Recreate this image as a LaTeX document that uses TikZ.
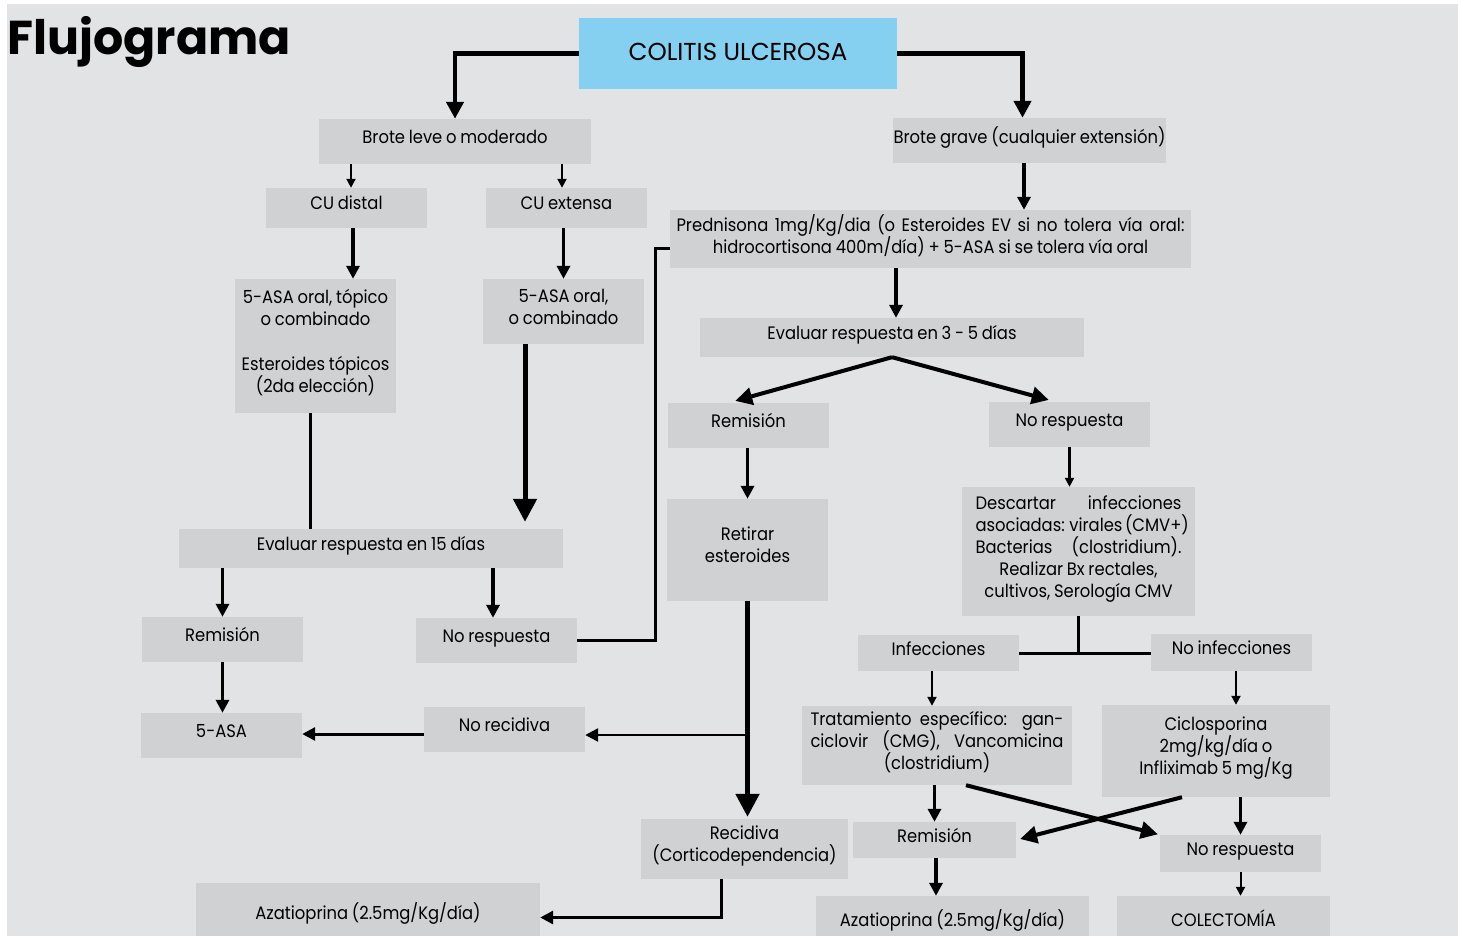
\documentclass[tikz,border=0pt]{standalone}
\usepackage{fontspec}
\setmainfont{Poppins}[FakeStretch=0.91,WordSpace=0.85]
\newfontfamily\headfont{Poppins}
\usepackage{xcolor}
\usepackage{tikz}
\usetikzlibrary{arrows.meta}

\definecolor{pagegray}{HTML}{E2E3E5}
\definecolor{boxgray}{HTML}{D0D1D3}
\definecolor{skyblue}{HTML}{85D0F0}

\begin{document}
\begin{tikzpicture}[x=1pt,y=-1pt,
 box/.style={fill=boxgray,inner sep=0pt,align=center,font=\fontsize{18}{22}\selectfont,
  execute at begin node={\rule{0pt}{14pt}},execute at end node={\rule[-10pt]{0pt}{10pt}}},
 huge/.style={-{Triangle[width=23pt,length=23pt]},line width=5pt},
 big/.style={-{Triangle[width=17pt,length=17pt]},line width=4.5pt},
 med/.style={-{Triangle[width=13pt,length=13pt]},line width=3.5pt},
 slim/.style={-{Triangle[width=9pt,length=9pt]},line width=2pt},
 link/.style={line width=3pt}]
\useasboundingbox (0,0) rectangle (1458,936);
\fill[white] (0,0) rectangle (1458,936);
\fill[pagegray] (7,4) rectangle (1458,936);
\node[anchor=base west,inner sep=0pt,font=\headfont\bfseries\fontsize{47.5}{50}\selectfont] (title) at (7,55) {Flujograma};
\node[box,fill=skyblue,minimum width=318,minimum height=71,font=\headfont\fontsize{24.5}{28}\selectfont,
 execute at begin node={},execute at end node={},text height=17pt,text depth=3pt] (colitis) at (738,53.5) {COLITIS ULCEROSA};
\node[box,minimum width=272,minimum height=45] (leve) at (455,141.5) {Brote leve o moderado};
\node[box,minimum width=273,minimum height=45] (grave) at (1029.5,140.5) {Brote grave (cualquier extensión)};
\node[box,minimum width=161,minimum height=40] (distal) at (346.5,208) {CU distal};
\node[box,minimum width=161,minimum height=40] (extensa) at (566.5,208) {CU extensa};
\node[box,minimum width=521,minimum height=58] (predni) at (930.5,239) {\hbox to 508pt{Prednisona 1mg/Kg/dia (o Esteroides EV si no tolera vía oral:}\\hidrocortisona 400m/día) + 5-ASA si se tolera vía oral};
\node[box,minimum width=161,minimum height=134] (asatop) at (315.5,346) {5-ASA oral, tópico\\o combinado\\[23pt]Esteroides tópicos\\(2da elección)};
\node[box,minimum width=161,minimum height=65] (asacomb) at (563.5,311.5) {5-ASA oral,\\o combinado};
\node[box,minimum width=384,minimum height=39] (evaltres) at (892,337.5) {Evaluar respuesta en 3 - 5 días};
\node[box,minimum width=161,minimum height=45] (remmid) at (748.5,425.5) {Remisión};
\node[box,minimum width=161,minimum height=45] (norespmid) at (1069.5,424.5) {No respuesta};
\node[box,minimum width=161,minimum height=102] (retirar) at (747.5,550) {Retirar\\esteroides};
\node[box,minimum width=233,minimum height=129] (descartar) at (1078.5,551.5) {\hbox to 206pt{Descartar\hfill infecciones}\\\hbox to 206pt{asociadas: virales (CMV+)}\\\hbox to 206pt{Bacterias\hfill (clostridium).}\\Realizar Bx rectales,\\cultivos, Serología CMV};
\node[box,minimum width=384,minimum height=39] (evalquince) at (371,548.5) {Evaluar respuesta en 15 días};
\node[box,minimum width=161,minimum height=45] (reml) at (222.5,639.5) {Remisión};
\node[box,minimum width=161,minimum height=45] (norespl) at (496.5,640.5) {No respuesta};
\node[box,minimum width=161,minimum height=36] (infec) at (938.5,653) {Infecciones};
\node[box,minimum width=161,minimum height=37] (noinfec) at (1231.5,652.5) {No infecciones};
\node[box,minimum width=161,minimum height=45] (asa) at (221.5,735.5) {5-ASA};
\node[box,minimum width=161,minimum height=45] (norecid) at (504.5,729.5) {No recidiva};
\node[box,minimum width=270,minimum height=79] (tratam) at (937,745.5) {\hbox to 253pt{Tratamiento específico: gan-}\\\hbox to 253pt{ciclovir (CMG), Vancomicina}\\(clostridium)};
\node[box,minimum width=228,minimum height=92] (ciclo) at (1216,751) {Ciclosporina\\2mg/kg/día o\\Infliximab 5 mg/Kg};
\node[box,minimum width=207,minimum height=60] (recid) at (744.5,849) {Recidiva\\(Corticodependencia)};
\node[box,minimum width=163,minimum height=36] (remb) at (934.5,840) {Remisión};
\node[box,minimum width=161,minimum height=37] (norespb) at (1240.5,853.5) {No respuesta};
\node[box,minimum width=344,minimum height=66] (azal) at (368,916) {Azatioprina (2.5mg/Kg/día)};
\node[box,minimum width=273,minimum height=55] (azar) at (952.5,923.5) {Azatioprina (2.5mg/Kg/día)};
\node[box,minimum width=213,minimum height=55] (colect) at (1223.5,923.5) {COLECTOMÍA};
\coordinate (bend) at (655,248);
\coordinate (split) at (745,735);
\draw[big] (colitis.west) -| (leve.north);
\draw[big] (colitis.east) -| ([xshift=-7pt]grave.north);
\draw[slim] ([xshift=4.5pt]distal.north |- leve.south) -- ([xshift=4.5pt]distal.north);
\draw[slim] ([xshift=-4.5pt]extensa.north |- leve.south) -- ([xshift=-4.5pt]extensa.north);
\draw[med] ([xshift=-5.5pt]grave.south) -- ([xshift=-5.5pt]grave.south |- predni.north);
\draw[med] ([xshift=6.5pt]distal.south) -- ([xshift=6.5pt]distal.south |- asatop.north);
\draw[med] (asacomb.north |- extensa.south) -- (asacomb.north);
\draw[med] ([xshift=4pt]evaltres.north |- predni.south) -- ([xshift=4pt]evaltres.north);
\draw[big,line width=4pt,shorten >=7pt] (evaltres.south) -- ([xshift=-20pt]remmid.north);
\draw[big,line width=4pt,shorten >=7pt] (evaltres.south) -- ([xshift=-14pt]norespmid.north);
\draw[med] (retirar.north |- remmid.south) -- (retirar.north);
\draw[slim,line width=2.5pt] (norespmid.south) -- (norespmid.south |- descartar.north);
\draw[huge,shorten >=7pt] ([xshift=-38.5pt]asacomb.south) -- ([xshift=-38.5pt]asacomb.south |- evalquince.north);
\draw[link] ([xshift=-5.5pt]asatop.south) -- ([xshift=-5.5pt]asatop.south |- evalquince.north);
\draw[med] (reml.north |- evalquince.south) -- (reml.north);
\draw[med] ([xshift=-3.5pt]norespl.north |- evalquince.south) -- ([xshift=-3.5pt]norespl.north);
\draw[link] (norespl.east) -| (bend) -- (bend -| predni.west);
\draw[med] (reml.south) -- (reml.south |- asa.north);
\draw[med,line width=3pt] ([yshift=-4.5pt]norecid.west) -- ([yshift=-4.5pt]norecid.west -| asa.east);
\draw[huge,shorten >=2pt] (retirar.south) -- (retirar.south |- recid.north);
\draw[med,line width=2.5pt] (split) -- (split -| norecid.east);
\draw[link] (descartar.south) -- (descartar.south |- infec.east);
\draw[link] (infec.east) -- (infec.east -| noinfec.west);
\draw[slim] ([xshift=-6.5pt]infec.south) -- ([xshift=-6.5pt]infec.south |- tratam.north);
\draw[slim] ([xshift=4.5pt]noinfec.south) -- ([xshift=4.5pt]noinfec.south |- ciclo.north);
\draw[med] (remb.north |- tratam.south) -- (remb.north);
\draw[big,line width=4pt,shorten >=2pt] ([xshift=29pt]tratam.south) -- (norespb.north west);
\draw[big,line width=4pt,shorten >=4pt] ([xshift=-34pt]ciclo.south) -- (remb.east);
\draw[med] (norespb.north |- ciclo.south) -- (norespb.north);
\draw[med] ([xshift=1.5pt]remb.south) -- ([xshift=1.5pt]remb.south |- azar.north);
\draw[slim] (norespb.south) -- (norespb.south |- colect.north);
\draw[med,line width=3pt] ([xshift=-23.5pt]recid.south) |- ([yshift=-1.5pt]azal.east);
\end{tikzpicture}
\end{document}
